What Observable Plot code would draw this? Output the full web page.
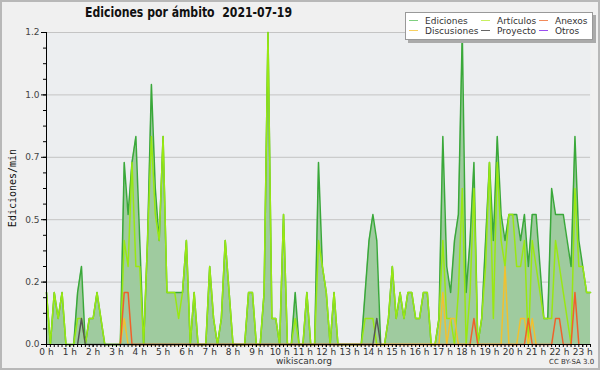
<!DOCTYPE html>
<html><head><meta charset="utf-8">
<script src="https://cdn.jsdelivr.net/npm/d3@7"></script>
<script src="https://cdn.jsdelivr.net/npm/@observablehq/plot@0.6"></script>
<style>
html,body{margin:0;padding:0;background:#f0f0f0;}
#wrap{position:relative;width:600px;height:370px;overflow:hidden;font-family:"DejaVu Sans",sans-serif;}
#chart{position:absolute;left:0;top:0;}
#border{position:absolute;left:0;top:0;width:600px;height:370px;box-sizing:border-box;border:2px solid #b8b8b8;pointer-events:none;}
#title{position:absolute;left:85px;top:4px;font-weight:bold;font-size:13.5px;line-height:16px;color:#111;white-space:pre;transform-origin:0 0;font-family:"DejaVu Sans Condensed","DejaVu Sans",sans-serif;}
#ylab{position:absolute;left:12px;top:188px;font-family:"DejaVu Sans Mono",monospace;font-size:10px;color:#111;transform:translate(-50%,-50%) rotate(-90deg);white-space:nowrap;}
#legend{position:absolute;left:405px;top:12px;width:186px;height:26px;background:#fff;border:1px solid #999;box-shadow:3px 3px 0 #aaa;}
.li{position:absolute;font-size:9px;color:#333;white-space:nowrap;line-height:10px;}
.li span{display:inline-block;width:9px;height:0;border-top:1px solid;vertical-align:middle;margin-right:7px;position:relative;top:-1px;}
#foot{position:absolute;left:276px;top:357px;font-size:9px;line-height:9px;color:#333;}
#cc{position:absolute;left:549px;top:359px;font-size:7px;line-height:7px;color:#333;}
</style></head>
<body><div id="wrap"><div id="chart"></div>
<div id="title"></div><div id="ylab"></div><div id="legend"></div>
<div id="foot"></div><div id="cc"></div><div id="border"></div></div>
<script>
// 10-minute slot index (0 = 00:00) and edits per minute
const titleText = "Ediciones por ámbito  2021-07-19";
const yLabel = "Ediciones/min";
const ediciones = [[0,0.2],[1,0],[2,0.2],[3,0.1],[4,0.2],[5,0],[7,0],[8,0.2],[9,0.3],[10,0],[11,0.1],[12,0.1],[13,0.2],[14,0.1],[15,0],[19,0],[20,0.7],[21,0.5],[22,0.7],[23,0.8],[24,0.4],[25,0],[26,0.4],[27,1.0],[28,0.6],[29,0.4],[30,0.8],[31,0.2],[35,0.2],[36,0.4],[37,0],[38,0.2],[39,0],[41,0],[42,0.3],[43,0.1],[44,0],[45,0.1],[46,0.4],[47,0.2],[48,0],[51,0],[52,0.2],[53,0.2],[54,0],[55,0],[56,0.2],[57,1.2],[58,0.1],[59,0.1],[60,0],[61,0.5],[62,0],[63,0],[64,0.2],[65,0],[66,0],[67,0.2],[68,0],[69,0],[70,0.7],[71,0.3],[72,0.2],[73,0],[74,0.2],[75,0],[81,0],[82,0.2],[83,0.4],[84,0.5],[85,0.4],[86,0],[87,0],[88,0.1],[89,0.3],[90,0.1],[91,0.2],[92,0.1],[93,0.2],[94,0.2],[95,0.1],[96,0.1],[97,0.2],[98,0.2],[99,0],[100,0],[101,0.1],[102,0.8],[103,0.3],[104,0.2],[105,0.4],[106,0.5],[107,1.2],[108,0.2],[109,0.4],[110,0.7],[111,0],[112,0.1],[113,0.4],[114,0.7],[115,0.4],[116,0.8],[117,0.5],[118,0.4],[119,0.5],[120,0.5],[121,0.5],[122,0.4],[123,0.5],[124,0.3],[125,0.5],[126,0.5],[127,0.3],[128,0.1],[129,0.1],[130,0.6],[131,0.5],[132,0.5],[133,0.5],[134,0.4],[135,0.3],[136,0.8],[137,0.4],[138,0.3],[139,0.2],[140,0.2]];
const articulos = [[0,0.2],[1,0],[2,0.2],[3,0.1],[4,0.2],[5,0],[7,0],[8,0.1],[9,0.1],[10,0],[11,0.1],[12,0.1],[13,0.2],[14,0.1],[15,0],[19,0],[20,0.4],[21,0.3],[22,0.7],[23,0.3],[24,0.3],[25,0],[26,0.4],[27,0.8],[28,0.5],[29,0.4],[30,0.8],[31,0.2],[33,0.2],[34,0.1],[35,0.2],[36,0.4],[37,0],[38,0.2],[39,0],[41,0],[42,0.3],[43,0.1],[44,0],[45,0.1],[46,0.4],[47,0.2],[48,0],[51,0],[52,0.2],[53,0.2],[54,0],[55,0],[56,0.2],[57,1.2],[58,0.1],[59,0.1],[60,0],[61,0.5],[62,0],[63,0],[64,0.1],[65,0],[66,0],[67,0.2],[68,0],[69,0],[70,0.4],[71,0.3],[72,0.2],[73,0],[74,0.2],[75,0],[81,0],[82,0.1],[83,0.1],[84,0.1],[85,0],[87,0],[88,0.1],[89,0.3],[90,0.1],[91,0.2],[92,0.1],[93,0.2],[94,0.2],[95,0.1],[96,0.1],[97,0.2],[98,0.2],[99,0],[100,0],[101,0.1],[102,0.4],[103,0.1],[104,0.1],[105,0],[106,0.2],[107,0.6],[108,0],[109,0.2],[110,0.6],[111,0],[112,0.1],[113,0.3],[114,0.7],[115,0.1],[116,0.7],[117,0.4],[118,0.3],[119,0.5],[120,0.5],[121,0.3],[122,0.3],[123,0.4],[124,0],[125,0.4],[126,0.3],[127,0.2],[128,0.1],[129,0.1],[130,0.1],[131,0.4],[132,0.3],[133,0.2],[134,0.1],[135,0],[136,0.6],[137,0.3],[138,0.3],[139,0.2],[140,0.2]];
const discusiones = [[19,0],[20,0.1],[21,0],[101,0],[102,0.2],[103,0],[104,0.1],[105,0.1],[106,0],[117,0],[118,0.3],[119,0],[121,0],[122,0.1],[123,0.1],[124,0],[125,0.1],[126,0]];
const anexos = [[19,0],[20,0.2],[21,0.2],[22,0],[109,0],[110,0.1],[111,0],[123,0],[124,0.1],[125,0],[130,0],[131,0.1],[132,0.1],[133,0],[135,0],[136,0.2],[137,0]];
const proyecto = [[8,0],[9,0.1],[10,0],[84,0],[85,0.1],[86,0]];
const otros = [];
const seriesNames = ["Ediciones","Artículos","Anexos","Discusiones","Proyecto","Otros"];
const seriesColors = ["#3aa83a","#99e812","#f0602a","#f2c12e","#555555","#9a4ef0"];
const legendColors = ["#7fcf7f","#c8f060","#f28a5a","#f8d060","#666666","#9a4ef0"];
const hourTicks = d3.range(0, 24);
const yMajor = [0, 0.24, 0.48, 0.72, 0.96, 1.2];
const lastSlot = 140;

const pts = a => a.map(([s, v]) => ({h: s / 6, v}));
const col = n => seriesColors[seriesNames.indexOf(n)];
const yMinor = d3.range(0, 21).map(i => i * 0.06);
const xMinor = d3.range(0, lastSlot + 1).map(s => s / 6);

const chart = Plot.plot({
  width: 600, height: 370,
  marginLeft: 46, marginRight: 10, marginTop: 32, marginBottom: 26,
  style: {background: "transparent", fontFamily: "DejaVu Sans", fontSize: "9px", color: "#333"},
  x: {domain: [0, lastSlot / 6], label: null},
  y: {domain: [0, 1.2], label: null},
  marks: [
    Plot.frame({fill: "#eceef0", stroke: null}),
    Plot.gridY(yMajor, {stroke: "#c4c4c4", strokeOpacity: 1}),
    Plot.areaY(pts(ediciones), {x: "h", y: "v", fill: "#9fcb9f"}),
    Plot.lineY(pts(ediciones), {x: "h", y: "v", stroke: col("Ediciones"), strokeWidth: 1.5}),
    Plot.lineY(pts(articulos), {x: "h", y: "v", stroke: col("Artículos"), strokeWidth: 1.5}),
    Plot.lineY(pts(discusiones), {x: "h", y: "v", stroke: col("Discusiones"), strokeWidth: 1.5}),
    Plot.lineY(pts(anexos), {x: "h", y: "v", stroke: col("Anexos"), strokeWidth: 1.5}),
    Plot.lineY(pts(proyecto), {x: "h", y: "v", stroke: col("Proyecto"), strokeWidth: 1.5}),
    Plot.lineY(pts(otros), {x: "h", y: "v", stroke: col("Otros"), strokeWidth: 1.5}),
    Plot.axisY({ticks: yMinor, tickSize: 3, tickFormat: () => "", stroke: "#000"}),
    Plot.axisY({ticks: yMajor, tickSize: 5, tickPadding: 2, tickFormat: d3.format(".1f"), stroke: "#000", fill: "#444"}),
    Plot.axisX({ticks: xMinor, tickSize: 3, tickFormat: () => "", stroke: "#000"}),
    Plot.axisX({ticks: hourTicks, tickSize: 3, tickPadding: 1, tickFormat: d => d + " h", stroke: "#000", fill: "#333"}),
    Plot.ruleX([0], {stroke: "#000"}),
    Plot.ruleY([0], {stroke: "#000"})
  ]
});
document.getElementById("chart").appendChild(chart);
const t = document.getElementById("title");
t.textContent = titleText;
const tw = t.getBoundingClientRect().width;
if (tw > 0) t.style.transform = "scaleX(" + (207 / tw) + ")";
document.getElementById("ylab").textContent = yLabel;
document.getElementById("foot").textContent = "wikiscan.org";
document.getElementById("cc").textContent = "CC BY-SA 3.0";
const legendPos = [["Ediciones",3,3],["Artículos",75,3],["Anexos",133,3],["Discusiones",3,13],["Proyecto",75,13],["Otros",133,13]];
const lg = document.getElementById("legend");
legendPos.forEach(([n, x, y]) => {
  const d = document.createElement("div");
  d.className = "li"; d.style.left = x + "px"; d.style.top = y + "px";
  const s = document.createElement("span");
  s.style.borderColor = legendColors[seriesNames.indexOf(n)];
  d.appendChild(s); d.appendChild(document.createTextNode(n));
  lg.appendChild(d);
});
</script></body></html>
